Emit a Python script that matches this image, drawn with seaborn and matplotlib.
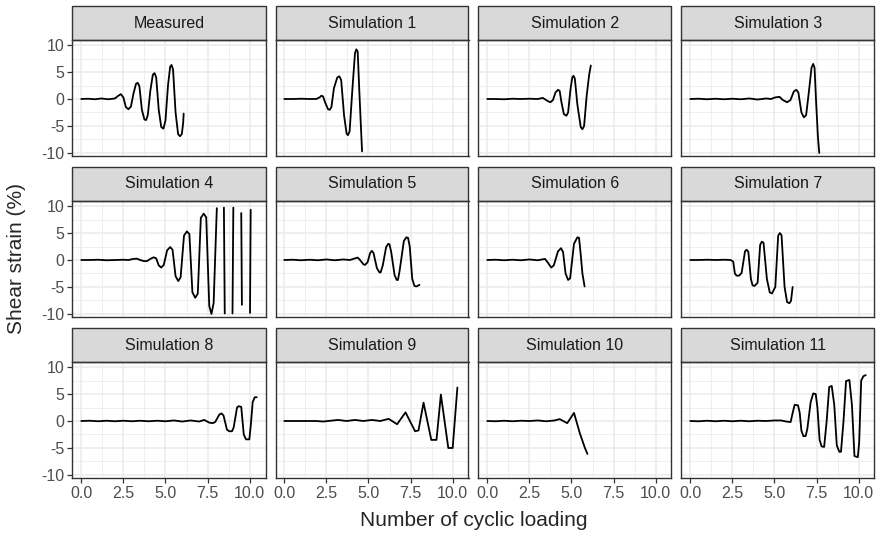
import pandas as pd
import matplotlib.pyplot as plt
from matplotlib.patches import Rectangle
import seaborn as sns

panels = ["Measured"] + [f"Simulation {i}" for i in range(1, 12)]

# %% digitised curves (cycles, shear strain %)

measured_x = [0, 0.4, 0.8, 1.2, 1.6, 2.0, 2.2, 2.35, 2.5, 2.65, 2.8, 2.95, 3.1, 3.25, 3.35,
              3.45, 3.6, 3.75, 3.85, 3.95, 4.1, 4.25, 4.35, 4.45, 4.6, 4.75, 4.88, 5.0,
              5.15, 5.28, 5.36, 5.45, 5.6, 5.75, 5.86, 5.97, 6.05, 6.08]
measured_y = [0, 0.05, -0.05, 0.1, -0.05, 0.1, 0.6, 0.9, 0.3, -1.5, -1.9, -1.4, 1.0, 2.8, 3.0,
              2.4, -2.0, -3.8, -3.9, -3.0, 1.5, 4.5, 4.8, 4.0, -2.0, -5.2, -5.5, -4.0,
              2.5, 6.0, 6.3, 5.5, -2.5, -6.5, -6.9, -6.5, -4.5, -2.7]

sim1_x = [0, 0.5, 1.0, 1.5, 1.9, 2.1, 2.2, 2.3, 2.45, 2.6, 2.7, 2.8, 2.95, 3.15, 3.27, 3.38,
          3.55, 3.7, 3.78, 3.88, 4.05, 4.2, 4.28, 4.36, 4.45, 4.55, 4.62]
sim1_y = [0, 0, 0.05, 0, 0, 0.3, 0.6, 0.5, -0.8, -1.9, -2.0, -1.5, 2.0, 4.0, 4.2, 3.5,
          -3.0, -6.4, -6.7, -6.0, 2.0, 8.5, 9.2, 8.8, 2.0, -5.0, -9.7]

sim2_x = [0, 0.5, 1.0, 1.5, 2.0, 2.5, 3.0, 3.3, 3.6, 3.75, 3.9, 4.05, 4.2, 4.3, 4.4, 4.55,
          4.7, 4.8, 4.95, 5.05, 5.12, 5.2, 5.35, 5.55, 5.65, 5.75, 5.9, 6.05, 6.15]
sim2_y = [0, 0, -0.05, 0.05, 0, 0.05, 0, 0.2, -0.4, -0.6, -0.2, 1.2, 1.7, 1.5, -0.5, -2.8,
          -3.1, -2.5, 2.0, 4.0, 4.3, 3.8, -1.0, -5.2, -5.6, -5.0, 0.5, 4.5, 6.2]

sim3_x = [0, 0.5, 1.0, 1.5, 2.0, 2.5, 3.0, 3.5, 4.0, 4.5, 4.8, 5.05, 5.3, 5.5, 5.75, 5.95,
          6.15, 6.3, 6.42, 6.6, 6.75, 6.88, 7.05, 7.2, 7.3, 7.38, 7.48, 7.58, 7.66]
sim3_y = [0, 0.05, -0.05, 0.05, -0.05, 0.05, -0.05, 0.1, -0.1, 0.1, 0, 0.3, 0.4, -0.2, -0.6,
          -0.2, 1.4, 1.7, 1.2, -2.5, -3.4, -3.0, 1.5, 5.8, 6.5, 5.8, -1.0, -7.0, -10.0]

sim4_x = [0, 0.5, 1.0, 1.5, 2.0, 2.5, 2.8, 3.1, 3.3, 3.5, 3.7, 3.9, 4.1, 4.3, 4.45, 4.6,
          4.75, 4.9, 5.1, 5.28, 5.42, 5.6, 5.76, 5.9, 6.1, 6.27, 6.42, 6.6, 6.77, 6.92,
          7.1, 7.27, 7.42, 7.6, 7.73, 7.86, 8.0, 8.05, 8.1, 8.42, 8.47, 8.52, 8.56, 8.94,
          8.98, 9.03, 9.08, 9.46, 9.5, 9.54, 9.58, 9.98, 10.02, 10.06, 10.1]
sim4_y = [0, 0, 0.05, -0.05, 0, 0.05, 0, 0.2, 0.25, 0, -0.2, -0.2, 0.2, 0.5, 0.3, -1.0,
          -1.4, -0.9, 1.8, 2.4, 1.9, -3.0, -3.9, -3.2, 4.5, 5.3, 4.8, -6.0, -7.0, -6.2,
          7.8, 8.6, 7.9, -8.5, -10.0, -8.0, 5.0, 9.6, 12, 12, 9.7, -9.9, -12, -12,
          -9.9, 9.7, 12, 12, 8.7, -8.3, -12, -12, -9.8, 9.3, 12]

sim5_x = [0, 0.5, 1.0, 1.5, 2.0, 2.5, 3.0, 3.5, 3.9, 4.2, 4.36, 4.5, 4.7, 4.8, 4.95, 5.1,
          5.2, 5.3, 5.5, 5.65, 5.72, 5.85, 6.05, 6.18, 6.25, 6.35, 6.55, 6.68, 6.75, 6.85,
          7.1, 7.25, 7.35, 7.45, 7.6, 7.73, 7.85, 8.03]
sim5_y = [0, 0.05, -0.05, 0.05, -0.05, 0.1, -0.05, 0.1, 0, 0.3, 0.45, 0, -0.8, -0.9, -0.4,
          1.3, 1.7, 1.3, -1.5, -2.3, -2.3, -1.0, 2.4, 3.0, 2.9, 1.5, -2.8, -3.7, -3.7,
          -2.0, 3.5, 4.2, 4.1, 2.5, -3.5, -4.8, -4.9, -4.6]

sim6_x = [0, 0.5, 1.0, 1.5, 2.0, 2.5, 3.0, 3.25, 3.43, 3.6, 3.8, 3.95, 4.2, 4.38, 4.5, 4.65,
          4.8, 4.92, 5.15, 5.35, 5.45, 5.55, 5.65, 5.78]
sim6_y = [0, 0.05, -0.05, 0.05, -0.05, 0.1, -0.05, 0.1, 0.2, -0.5, -1.4, -1.0, 1.6, 2.2,
          1.5, -2.5, -3.7, -3.4, 3.0, 4.2, 4.1, 1.0, -2.5, -4.9]

sim7_x = [0, 0.5, 1.0, 1.5, 2.0, 2.4, 2.55, 2.65, 2.75, 2.9, 3.05, 3.25, 3.35, 3.45, 3.6,
          3.7, 3.82, 4.0, 4.15, 4.25, 4.35, 4.55, 4.72, 4.85, 5.05, 5.22, 5.32, 5.42, 5.6,
          5.75, 5.88, 5.98, 6.08]
sim7_y = [0, 0, 0.05, 0, 0.05, 0, -0.3, -2.5, -2.9, -2.9, -2.4, 1.6, 1.9, 1.5, -3.5, -4.7,
          -4.8, -4.2, 2.8, 3.4, 3.2, -3.5, -6.0, -6.2, -5.0, 4.5, 5.0, 4.6, -5.0, -7.8,
          -8.0, -7.6, -5.0]

sim8_x = [0, 0.5, 1.0, 1.5, 2.0, 2.5, 3.0, 3.5, 4.0, 4.5, 5.0, 5.5, 6.0, 6.5, 7.0, 7.3,
          7.6, 7.8, 7.95, 8.2, 8.33, 8.45, 8.65, 8.78, 8.95, 9.05, 9.25, 9.35, 9.5, 9.65,
          9.78, 9.98, 10.06, 10.18, 10.3, 10.42]
sim8_y = [0, 0.05, -0.05, 0.05, -0.05, 0.05, -0.05, 0.05, -0.05, 0.05, -0.05, 0.1, -0.1,
          0.1, -0.1, 0.2, -0.3, -0.4, -0.2, 1.2, 1.4, 1.0, -1.6, -1.9, -1.9, -1.2, 2.5,
          2.75, 2.6, -2.5, -3.4, -3.4, -1.0, 3.5, 4.4, 4.4]

sim9_x = [0, 1.0, 1.9, 2.3, 3.2, 3.7, 4.2, 4.7, 5.2, 5.7, 6.2, 6.7, 7.2, 7.77, 7.97, 8.27,
          8.73, 9.04, 9.3, 9.74, 10.0, 10.28]
sim9_y = [0, 0, 0, -0.1, 0.2, 0, 0.2, 0, 0.2, 0, 0.4, -0.6, 1.6, -1.9, -1.75, 3.4, -3.5,
          -3.5, 4.9, -5.0, -5.0, 6.2]

sim10_x = [0, 0.5, 1.0, 1.5, 2.0, 2.5, 3.0, 3.5, 4.0, 4.3, 4.75, 5.15, 5.5, 5.8, 5.95]
sim10_y = [0, -0.05, 0.05, -0.05, 0.05, 0, 0.1, -0.05, 0.1, 0.35, -0.4, 1.5, -2.3, -5.0,
           -6.1]

sim11_x = [0, 0.5, 1.0, 1.5, 2.0, 2.5, 3.0, 3.5, 4.0, 4.5, 5.0, 5.4, 5.7, 5.96, 6.08, 6.2,
           6.4, 6.5, 6.6, 6.72, 6.85, 6.95, 7.15, 7.3, 7.45, 7.55, 7.68, 7.8, 7.95, 8.1,
           8.25, 8.4, 8.55, 8.7, 8.85, 8.95, 9.1, 9.25, 9.45, 9.6, 9.75, 9.95, 10.03,
           10.15, 10.28, 10.42]
sim11_y = [0, -0.05, 0.05, -0.05, 0.05, -0.05, 0.05, -0.05, 0.05, 0, 0.1, 0.1, -0.1, -0.2,
           1.5, 3.0, 2.9, 1.5, -1.8, -2.8, -2.8, -1.5, 3.5, 5.1, 5.0, 2.5, -3.5, -4.7,
           -4.8, 0.0, 6.3, 6.5, 3.0, -4.5, -5.7, -5.7, 0.0, 7.4, 7.6, 3.0, -6.5, -6.7,
           -4.0, 7.5, 8.3, 8.5]

panel_x = [measured_x, sim1_x, sim2_x, sim3_x, sim4_x, sim5_x, sim6_x, sim7_x, sim8_x,
           sim9_x, sim10_x, sim11_x]
panel_y = [measured_y, sim1_y, sim2_y, sim3_y, sim4_y, sim5_y, sim6_y, sim7_y, sim8_y,
           sim9_y, sim10_y, sim11_y]

frames = []
for name, xs, ys in zip(panels, panel_x, panel_y):
    d = pd.DataFrame({"panel": name, "cycles": xs, "strain": ys})
    # like ggplot limits: points beyond +-10 are dropped and the line breaks there
    out = d.strain.abs() > 10
    d["seg"] = out.cumsum()
    frames.append(d.loc[~out])
df = pd.concat(frames, ignore_index=True)

# %% plot

sns.set_style("white")
plt.rcParams["font.family"] = ["Liberation Sans", "DejaVu Sans"]

g = sns.FacetGrid(df, col="panel", col_wrap=4, col_order=panels, height=1.6, aspect=1.6,
                  sharex=True, sharey=True, despine=False)
g.map_dataframe(sns.lineplot, x="cycles", y="strain", units="seg", estimator=None,
                sort=False, color="black", linewidth=1.3)

fig = g.figure
fig.set_size_inches(8.79, 5.34)
fig.subplots_adjust(left=72.5 / 879, right=874.5 / 879, top=1 - 40 / 534,
                    bottom=1 - 478 / 534, wspace=10 / 193, hspace=45 / 116)

strip_h = 34 / 116
for i, ax in enumerate(g.axes.flat):
    row, col = divmod(i, 4)
    ax.set_xlim(-0.52, 10.94)
    ax.set_ylim(-10.56, 10.93)
    ax.set_xticks([0, 2.5, 5, 7.5, 10])
    ax.set_xticks([1.25, 3.75, 6.25, 8.75], minor=True)
    ax.set_yticks([-10, -5, 0, 5, 10])
    ax.set_yticks([-7.5, -2.5, 2.5, 7.5], minor=True)
    ax.set_xticklabels(["0.0", "2.5", "5.0", "7.5", "10.0"])
    ax.set_yticklabels(["-10", "-5", "0", "5", "10"])
    ax.grid(which="major", color="#EBEBEB", linewidth=1.1)
    ax.grid(which="minor", color="#EBEBEB", linewidth=0.55)
    ax.set_axisbelow(True)
    for sp in ax.spines.values():
        sp.set_color("#333333")
        sp.set_linewidth(1.0)
    ax.tick_params(which="minor", length=0)
    ax.tick_params(which="major", length=3.6, width=0.9, color="#333333",
                   labelsize=11.5, labelcolor="#4D4D4D", pad=2.5,
                   bottom=(row == 2), labelbottom=(row == 2),
                   left=(col == 0), labelleft=(col == 0))
    ax.set_xlabel("")
    ax.set_ylabel("")
    ax.set_title("")
    ax.add_patch(Rectangle((0, 1), 1, strip_h, transform=ax.transAxes, clip_on=False,
                           facecolor="#D9D9D9", edgecolor="#333333", linewidth=1.0))
    ax.text(0.5, 1 + strip_h / 2, panels[i], transform=ax.transAxes, ha="center",
            va="center", fontsize=11.5, color="#1A1A1A")

fig.text(473.5 / 879, 1 - 521 / 534, "Number of cyclic loading", ha="center", va="center",
         fontsize=15)
fig.text(17 / 879, 1 - 259 / 534, "Shear strain (%)", ha="center", va="center",
         rotation=90, fontsize=15)

plt.savefig("out.png", dpi=100)
